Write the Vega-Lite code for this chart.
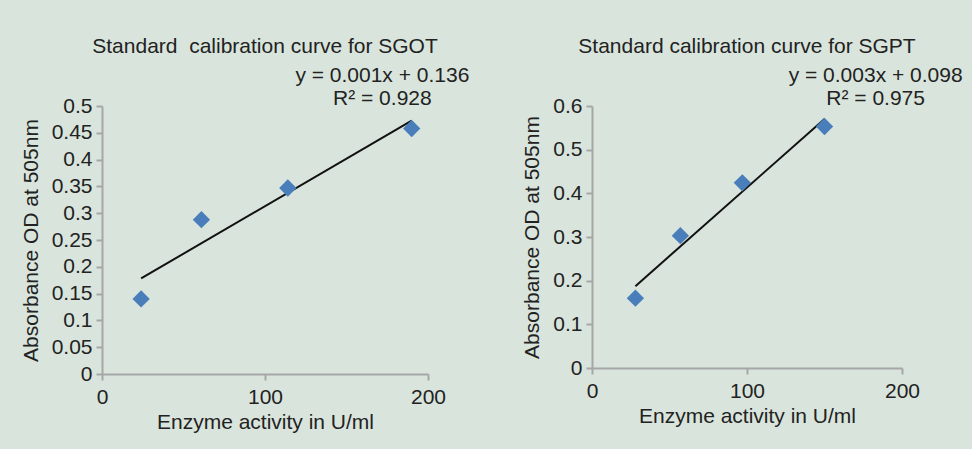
{
  "$schema": "https://vega.github.io/schema/vega-lite/v6.json",
  "background": "#d9e5dc",
  "padding": {"left": 20, "top": 35, "right": 40, "bottom": 30},
  "spacing": 51,
  "datasets": {
    "sgot": [
      {"activity": 24, "od": 0.14},
      {"activity": 61, "od": 0.288},
      {"activity": 114, "od": 0.347},
      {"activity": 190, "od": 0.458}
    ],
    "sgpt": [
      {"activity": 28, "od": 0.16},
      {"activity": 57, "od": 0.303},
      {"activity": 97, "od": 0.424},
      {"activity": 150, "od": 0.553}
    ],
    "sgot_eq": [
      {"activity": 172, "od": 0.556, "label": "y = 0.001x + 0.136"},
      {"activity": 172, "od": 0.513, "label": "R² = 0.928"}
    ],
    "sgpt_eq": [
      {"activity": 183, "od": 0.669, "label": "y = 0.003x + 0.098"},
      {"activity": 183, "od": 0.616, "label": "R² = 0.975"}
    ]
  },
  "config": {
    "font": "Liberation Sans",
    "view": {"stroke": null},
    "title": {"fontSize": 21, "fontWeight": "normal", "color": "#222", "font": "Liberation Sans", "offset": 8},
    "axis": {
      "grid": false,
      "labelOverlap": false,
      "domainColor": "#a6a6a6",
      "domainWidth": 2,
      "tickColor": "#a6a6a6",
      "tickWidth": 2,
      "tickSize": 6,
      "labelColor": "#222",
      "labelFontSize": 21,
      "labelFont": "Liberation Sans",
      "titleFont": "Liberation Sans",
      "titleFontSize": 21,
      "titleFontWeight": "normal",
      "titleColor": "#222"
    },
    "axisX": {"labelPadding": 6, "titlePadding": 4, "labelFlush": false},
    "axisY": {"labelPadding": 4, "titlePadding": 10}
  },
  "hconcat": [
    {
      "width": 326,
      "height": 268,
      "title": {"text": "Standard\u00a0 calibration curve for SGOT"},
      "encoding": {
        "x": {"field": "activity", "type": "quantitative", "scale": {"domain": [0, 200]}, "axis": {"values": [0, 100, 200], "labelFlush": false, "title": "Enzyme activity in U/ml"}},
        "y": {"field": "od", "type": "quantitative", "scale": {"domain": [0, 0.5]}, "axis": {"values": [0, 0.05, 0.1, 0.15, 0.2, 0.25, 0.3, 0.35, 0.4, 0.45, 0.5], "labelOverlap": false, "format": ".2~f", "title": "Absorbance OD at 505nm"}}
      },
      "layer": [
        {
          "data": {"name": "sgot"},
          "transform": [{"regression": "od", "on": "activity"}],
          "mark": {"type": "line", "color": "#111", "strokeWidth": 2}
        },
        {
          "data": {"name": "sgot"},
          "mark": {"type": "point", "shape": "diamond", "filled": true, "size": 300, "color": "#4a7ebb", "opacity": 1}
        },
        {
          "data": {"name": "sgot_eq"},
          "mark": {"type": "text", "clip": false, "fontSize": 21, "color": "#222", "align": "center", "baseline": "middle"},
          "encoding": {"text": {"field": "label"}}
        }
      ]
    },
    {
      "width": 310,
      "height": 262,
      "title": {"text": "Standard calibration curve for SGPT"},
      "encoding": {
        "x": {"field": "activity", "type": "quantitative", "scale": {"domain": [0, 200]}, "axis": {"values": [0, 100, 200], "labelFlush": false, "title": "Enzyme activity in U/ml"}},
        "y": {"field": "od", "type": "quantitative", "scale": {"domain": [0, 0.6]}, "axis": {"values": [0, 0.1, 0.2, 0.3, 0.4, 0.5, 0.6], "labelOverlap": false, "format": ".1~f", "title": "Absorbance OD at 505nm"}}
      },
      "layer": [
        {
          "data": {"name": "sgpt"},
          "transform": [{"regression": "od", "on": "activity"}],
          "mark": {"type": "line", "color": "#111", "strokeWidth": 2}
        },
        {
          "data": {"name": "sgpt"},
          "mark": {"type": "point", "shape": "diamond", "filled": true, "size": 300, "color": "#4a7ebb", "opacity": 1}
        },
        {
          "data": {"name": "sgpt_eq"},
          "mark": {"type": "text", "clip": false, "fontSize": 21, "color": "#222", "align": "center", "baseline": "middle"},
          "encoding": {"text": {"field": "label"}}
        }
      ]
    }
  ]
}
